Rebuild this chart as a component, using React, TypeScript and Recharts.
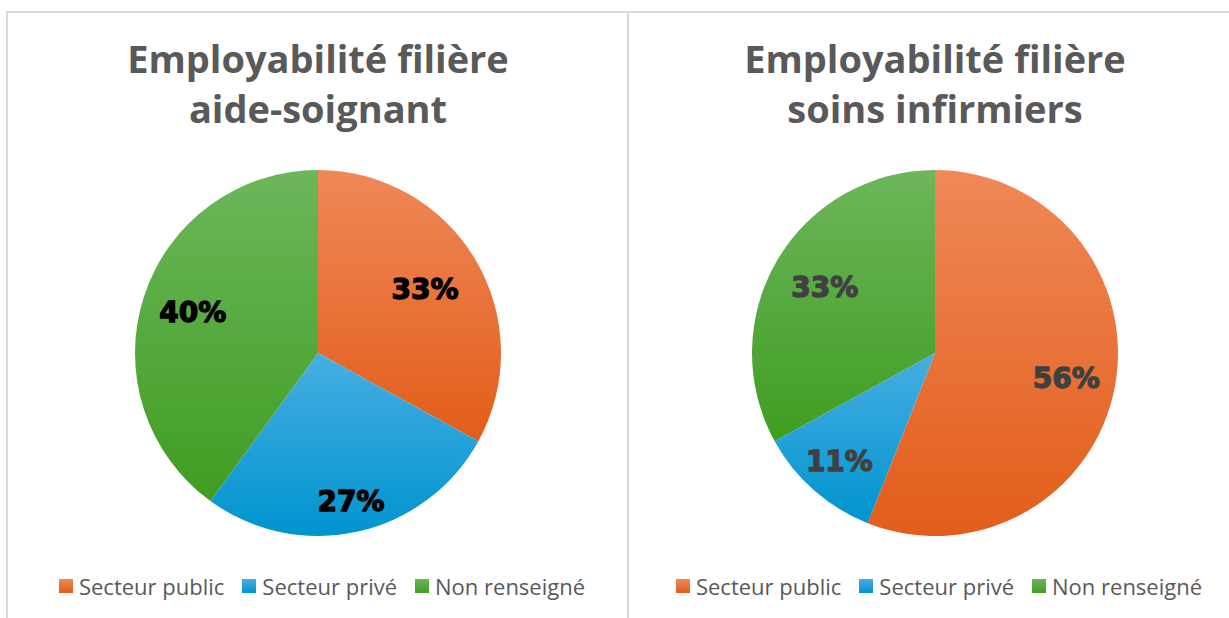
import React from "react";
import { PieChart, Pie, Cell, Legend } from "recharts";

const CATEGORIES = ["Secteur public", "Secteur privé", "Non renseigné"];
const AIDE_SOIGNANT = [33, 27, 40];
const SOINS_INFIRMIERS = [56, 11, 33];

// gradient stops, top -> bottom
const GRADIENTS = [
  ["#EF8858", "#E25D1A"], // orange
  ["#47AEE2", "#0094CF"], // blue
  ["#6DB65B", "#3F9D21"], // green
];

const TEXT_GRAY = "#595959";
const BORDER = "#d9d9d9";

type PanelProps = {
  id: string;
  title: string[];
  values: number[];
  left: number;
  width: number;
  cx: number;
  labelColor: string;
  labelRadius: number[];
};

const RAD = Math.PI / 180;

function Panel({ id, title, values, left, width, cx, labelColor, labelRadius }: PanelProps) {
  const data = CATEGORIES.map((name, i) => ({ name, value: values[i] }));

  const renderLabel = (props: any) => {
    const { cx, cy, midAngle, outerRadius, index, value } = props;
    const r = outerRadius * labelRadius[index];
    const x = cx + r * Math.cos(-midAngle * RAD);
    const y = cy + r * Math.sin(-midAngle * RAD);
    return (
      <text
        x={x}
        y={y}
        fill={labelColor}
        stroke={labelColor}
        strokeWidth={1.3}
        textAnchor="middle"
        dominantBaseline="central"
        style={{ fontFamily: "DejaVu Sans", fontWeight: 700, fontSize: 28 }}
      >
        {value}%
      </text>
    );
  };

  const renderLegend = () => (
    <div
      style={{
        display: "flex",
        justifyContent: "center",
        alignItems: "center",
        fontFamily: "Open Sans",
        fontSize: 22,
        color: TEXT_GRAY,
      }}
    >
      {CATEGORIES.map((c, i) => (
        <div key={c} style={{ display: "flex", alignItems: "center", marginRight: i < 2 ? 18 : 0 }}>
          <span
            style={{
              width: 14,
              height: 14,
              marginRight: 6,
              background: `linear-gradient(${GRADIENTS[i][0]}, ${GRADIENTS[i][1]})`,
            }}
          />
          <span>{c}</span>
        </div>
      ))}
    </div>
  );

  return (
    <div style={{ position: "absolute", left, top: 0, width, height: 618 }}>
      <div
        style={{
          position: "absolute",
          top: 33,
          left: 0,
          width: cx * 2,
          textAlign: "center",
          fontFamily: "Open Sans",
          fontWeight: 700,
          fontSize: 38,
          lineHeight: "50px",
          color: TEXT_GRAY,
        }}
      >
        {title.map((t) => (
          <div key={t}>{t}</div>
        ))}
      </div>
      <PieChart width={width} height={618} margin={{ top: 0, right: 0, bottom: 0, left: 0 }}>
        <defs>
          {GRADIENTS.map((g, i) => (
            <linearGradient key={i} id={`${id}-g${i}`} x1="0" y1="0" x2="0" y2="1">
              <stop offset="0%" stopColor={g[0]} />
              <stop offset="100%" stopColor={g[1]} />
            </linearGradient>
          ))}
        </defs>
        <Pie
          data={data}
          dataKey="value"
          nameKey="name"
          cx={cx}
          cy={353}
          outerRadius={183}
          startAngle={90}
          endAngle={-270}
          stroke="none"
          label={renderLabel}
          labelLine={false}
          isAnimationActive={false}
        >
          {data.map((entry, i) => (
            <Cell key={entry.name} fill={`url(#${id}-g${i})`} stroke="none" />
          ))}
        </Pie>
        <Legend verticalAlign="bottom" content={renderLegend} wrapperStyle={{ bottom: 17, left: 4, width: cx * 2 }} />
      </PieChart>
    </div>
  );
}

export default function App() {
  return (
    <div style={{ position: "absolute", left: 0, top: 0, width: 1229, height: 618, background: "#fff", overflow: "hidden" }}>
      <style>{`.recharts-pie-sectors { filter: drop-shadow(0px 1px 2px rgba(0,0,0,0.28)); }`}</style>
      <Panel
        id="as"
        title={["Employabilité filière", "aide-soignant"]}
        values={AIDE_SOIGNANT}
        left={0}
        width={627}
        cx={318}
        labelColor="#000000"
        labelRadius={[0.68, 0.83, 0.72]}
      />
      <Panel
        id="si"
        title={["Employabilité filière", "soins infirmiers"]}
        values={SOINS_INFIRMIERS}
        left={628}
        width={601}
        cx={307}
        labelColor="#404040"
        labelRadius={[0.73, 0.79, 0.7]}
      />
      <div style={{ position: "absolute", left: 6, top: 11, width: 1229, height: 2, background: BORDER }} />
      <div style={{ position: "absolute", left: 6, top: 11, width: 2, height: 618, background: BORDER }} />
      <div style={{ position: "absolute", left: 627, top: 11, width: 2, height: 618, background: BORDER }} />
    </div>
  );
}
